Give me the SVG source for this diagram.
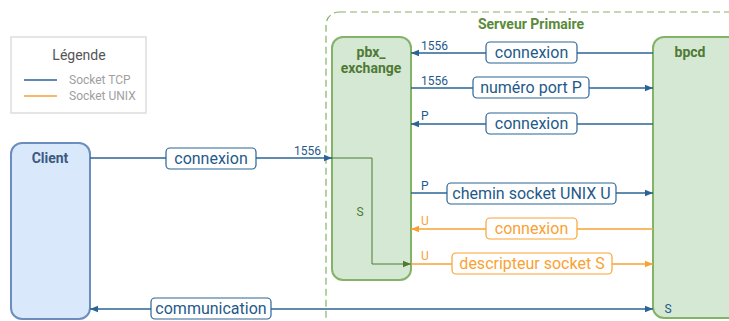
<svg xmlns="http://www.w3.org/2000/svg" width="729" height="321" viewBox="0 0 729 321">
<defs>
<style>
text{font-family:Roboto,"Liberation Sans",sans-serif}
.node{fill:#d5e8d4;stroke:#82b366;stroke-width:2}
.nt{font-size:14px;font-weight:bold;fill:#4e7a34;text-anchor:middle}
.tcp{stroke:#2a6496;stroke-width:1.5;fill:none}
.unix{stroke:#f9a233;stroke-width:1.5;fill:none}
.lb{fill:#fff;stroke:#2a6496;stroke-width:1.2}
.lbo{fill:#fff;stroke:#f9a233;stroke-width:1.2}
.lt{font-size:16px;fill:#1f5a8a;text-anchor:middle}
.lto{font-size:16px;fill:#f9a233;text-anchor:middle}
.pt{font-size:12px;fill:#1f5a8a}
.pto{font-size:12px;fill:#f9a233}
</style>
<marker id="ab" viewBox="0 0 10 10" refX="10" refY="5" markerWidth="8" markerHeight="8" orient="auto-start-reverse" markerUnits="userSpaceOnUse"><path d="M0,1 L10,5 L0,9 z" fill="#2a6496"/></marker>
<marker id="ao" viewBox="0 0 10 10" refX="10" refY="5" markerWidth="8" markerHeight="8" orient="auto-start-reverse" markerUnits="userSpaceOnUse"><path d="M0,1 L10,5 L0,9 z" fill="#f9a233"/></marker>
<marker id="ag" viewBox="0 0 10 10" refX="10" refY="5" markerWidth="8" markerHeight="8" orient="auto" markerUnits="userSpaceOnUse"><path d="M0,1 L10,5 L0,9 z" fill="#4e7a34"/></marker>
</defs>
<g id="legend">
<rect x="11" y="37" width="135" height="76" fill="#fff" stroke="#ddd" stroke-width="1.5"/>
<text x="79" y="60" font-size="14" fill="#555" text-anchor="middle">Légende</text>
<line x1="24" y1="80" x2="57" y2="80" stroke="#2a6496" stroke-width="1.5"/>
<line x1="24" y1="96" x2="57" y2="96" stroke="#f9a233" stroke-width="1.5"/>
<text x="69" y="84" font-size="12" fill="#a0a0a0">Socket TCP</text>
<text x="69" y="100" font-size="12" fill="#a0a0a0">Socket UNIX</text>
</g>
<g id="serveur">
<rect x="326" y="12" width="420" height="320" rx="13" fill="none" stroke="#82b366" stroke-width="1.2" stroke-dasharray="7,4"/>
<text x="531" y="29" font-size="14" font-weight="bold" fill="#5a8a3a" text-anchor="middle">Serveur Primaire</text>
</g>
<g id="client">
<rect x="11" y="143" width="79" height="176" rx="11" fill="#dae8fc" stroke="#6c8ebf" stroke-width="2"/>
<text x="50" y="163" font-size="14" font-weight="bold" fill="#3c5a80" text-anchor="middle">Client</text>
</g>
<g id="pbx_exchange">
<rect class="node" x="332" y="37" width="79" height="243" rx="11"/>
<text class="nt" x="371" y="57">pbx_</text>
<text class="nt" x="371" y="73">exchange</text>
<text x="360" y="216" font-size="12" fill="#4e7a34" text-anchor="middle">S</text>
</g>
<g id="bpcd">
<rect class="node" x="653" y="37" width="90" height="281" rx="11"/>
<text class="nt" x="690" y="57">bpcd</text>
<text x="668" y="313" font-size="12" fill="#1f5a8a" text-anchor="middle">S</text>
</g>
<g id="connectors">
<line class="tcp" x1="653" y1="53" x2="411" y2="53" marker-end="url(#ab)"/>
<rect class="lb" x="486" y="42" width="91" height="21" rx="4"/>
<text class="lt" x="531.5" y="58">connexion</text>
<text class="pt" x="421" y="50">1556</text>

<line class="tcp" x1="411" y1="88" x2="653" y2="88" marker-end="url(#ab)"/>
<rect class="lb" x="473" y="77" width="116" height="21" rx="4"/>
<text class="lt" x="531" y="93">numéro port P</text>
<text class="pt" x="421" y="85">1556</text>

<line class="tcp" x1="653" y1="124" x2="411" y2="124" marker-end="url(#ab)"/>
<rect class="lb" x="486" y="113" width="91" height="21" rx="4"/>
<text class="lt" x="531.5" y="129">connexion</text>
<text class="pt" x="421" y="120">P</text>

<line class="tcp" x1="411" y1="193" x2="653" y2="193" marker-end="url(#ab)"/>
<rect class="lb" x="447" y="183" width="169" height="21" rx="4"/>
<text class="lt" x="531.5" y="199">chemin socket UNIX U</text>
<text class="pt" x="421" y="190">P</text>

<line class="unix" x1="653" y1="229" x2="411" y2="229" marker-end="url(#ao)"/>
<rect class="lbo" x="486" y="218" width="91" height="21" rx="4"/>
<text class="lto" x="531.5" y="234">connexion</text>
<text class="pto" x="421" y="225">U</text>

<line class="unix" x1="411" y1="264" x2="653" y2="264" marker-end="url(#ao)"/>
<rect class="lbo" x="452" y="253" width="160" height="21" rx="4"/>
<text class="lto" x="532" y="269">descripteur socket S</text>
<text class="pto" x="421" y="260">U</text>

<line class="tcp" x1="90" y1="158" x2="332" y2="158" marker-end="url(#ab)"/>
<rect class="lb" x="166" y="148" width="90" height="21" rx="4"/>
<text class="lt" x="211" y="164">connexion</text>
<text class="pt" x="294" y="155">1556</text>

<path d="M332,158 H372 V264 H411" fill="none" stroke="#4e7a34" stroke-width="1" marker-end="url(#ag)"/>

<line class="tcp" x1="90" y1="309" x2="653" y2="309" marker-start="url(#ab)" marker-end="url(#ab)"/>
<rect class="lb" x="151" y="298" width="120" height="21" rx="4"/>
<text class="lt" x="211" y="314">communication</text>
</g>
</svg>
